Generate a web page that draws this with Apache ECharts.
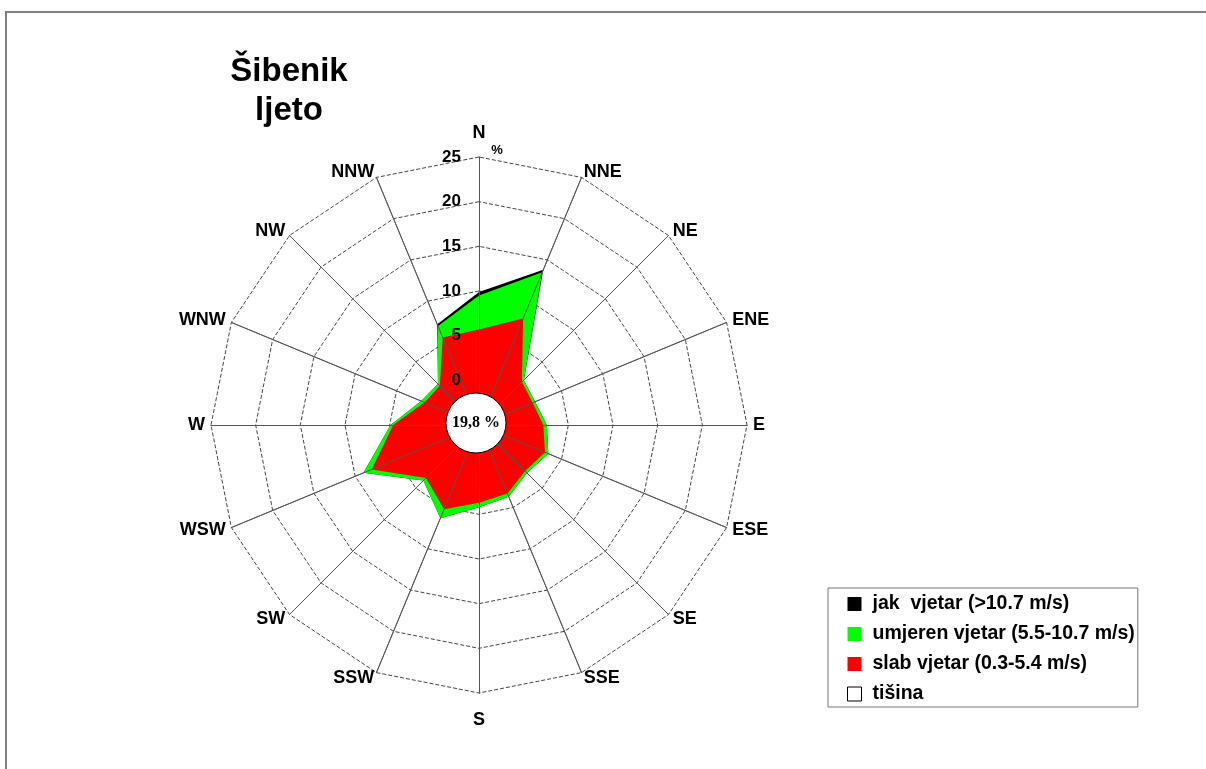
<!DOCTYPE html>
<html>
<head>
<meta charset="utf-8">
<script src="https://cdn.jsdelivr.net/npm/echarts@6/dist/echarts.min.js"></script>
<style>
	body{margin:0;background:#fff;}
	#frame{position:absolute;left:5px;top:11px;right:0;bottom:0;border-top:2px solid #808080;border-left:2px solid #808080;}
	#chart{position:absolute;left:0;top:0;width:1206px;height:769px;}
</style>
</head>
<body>
<div id="frame"></div>
<div id="chart"></div>
<script>
	// smjerovi u smjeru kazaljke, od N
	var directions = ['N','NNE','NE','ENE','E','ESE','SE','SSE','S','SSW','SW','WSW','W','WNW','NW','NNW'];
	// čestine (%) po razredu brzine
	var slab    = [5.7, 7.9, 1.8, 1.5, 2.2, 3.0, 2.3, 3.3, 3.7, 5.2, 3.4, 8.0, 4.6, 1.6, 1.2, 5.6];
	var umjeren = [3.8, 5.6, 0.3, 0.3, 0.4, 0.4, 0.3, 0.4, 0.5, 1.1, 0.4, 1.0, 0.3, 0.4, 0.3, 1.4];
	var jak     = [0.4, 0.3, 0.0, 0.0, 0.0, 0.0, 0.0, 0.0, 0.0, 0.0, 0.0, 0.0, 0.0, 0.0, 0.0, 0.2];
	var tisina = 19.8;
	var ringMin = -5, ringMax = 25;

	var names = {
		jak: 'jak  vjetar (>10.7 m/s)',
		umjeren: 'umjeren vjetar (5.5-10.7 m/s)',
		slab: 'slab vjetar (0.3-5.4 m/s)',
		tisina: 'tišina'
	};
	var font = 'Liberation Sans, Arial, sans-serif';

	// radar ide suprotno od kazaljke, pa okrenemo redoslijed
	function ccw(arr){
		return [arr[0]].concat(arr.slice(1).reverse());
	}
	function addUp(a, b){
		return a.map(function(v, i){ return +(v + b[i]).toFixed(2); });
	}
	var greenTotal = addUp(slab, umjeren);
	var blackTotal = addUp(greenTotal, jak);

	var indicator = ccw(directions).map(function(d){
		var ind = {name: d, min: ringMin, max: ringMax};
		if(d === 'N') ind.nameGap = 0;
		if(d === 'S') ind.nameGap = 18;
		return ind;
	});
	// gornji radar: samo žbice i brojevi na N osi
	var indicatorTop = ccw(directions).map(function(d){
		var ind = {name: d, min: ringMin, max: ringMax};
		if(d === 'N') ind.axisLabel = {show: true};
		return ind;
	});

	var center = [479, 425];
	var radius = 268;

	function radarSeries(name, values, color){
		return {
			type: 'radar',
			name: name,
			radarIndex: 0,
			symbol: 'none',
			silent: true,
			itemStyle: {color: color},
			lineStyle: {width: 0, color: color},
			areaStyle: {color: color, opacity: 1},
			data: [{name: name, value: ccw(values)}]
		};
	}

	var chart = echarts.init(document.getElementById('chart'));
	chart.setOption({
		animation: false,
		title: {
			text: 'Šibenik\nljeto',
			left: 284,
			top: 47,
			textAlign: 'center',
			textStyle: {fontFamily: font, fontSize: 33, fontWeight: 'bold', color: '#000', lineHeight: 39}
		},
		legend: {
			orient: 'vertical',
			left: 828,
			top: 588,
			padding: [6, 3, 3, 19],
			itemGap: 10,
			itemWidth: 26,
			itemHeight: 14,
			icon: 'path://M0,0H10V10H0Z',
			borderColor: '#777',
			borderWidth: 1,
			selectedMode: false,
			textStyle: {fontFamily: font, fontSize: 19.5, fontWeight: 'bold', color: '#000'},
			data: [
				names.jak,
				names.umjeren,
				names.slab,
				{name: names.tisina, itemStyle: {borderColor: '#000', borderWidth: 1}}
			]
		},
		radar: [{
			center: center,
			radius: radius,
			shape: 'polygon',
			splitNumber: 6,
			nameGap: 6,
			indicator: indicator,
			axisName: {
				color: '#000',
				fontFamily: font,
				fontSize: 18,
				fontWeight: 'bold',
				formatter: function(name){
					if(name === 'N') return '{n|N}\n{p|%}';
					return name;
				},
				rich: {
					n: {fontFamily: font, fontSize: 18, fontWeight: 'bold', color: '#000', lineHeight: 20},
					p: {fontFamily: font, fontSize: 13, fontWeight: 'bold', color: '#000', padding: [0, 0, 0, 36], lineHeight: 14}
				}
			},
			axisLine: {lineStyle: {color: '#666', width: 1}},
			splitLine: {lineStyle: {color: '#444', width: 1, type: [4, 2]}},
			splitArea: {show: false},
			axisLabel: {show: false}
		}, {
			center: center,
			radius: radius,
			shape: 'polygon',
			splitNumber: 6,
			z: 3,
			indicator: indicatorTop,
			axisName: {show: false},
			axisLine: {lineStyle: {color: '#555', width: 1}},
			splitLine: {show: false},
			splitArea: {show: false},
			axisLabel: {
				show: false,
				margin: 18,
				color: '#000',
				fontFamily: font,
				fontSize: 17,
				fontWeight: 'bold',
				formatter: function(v){ return v < 0 ? '' : String(v); }
			}
		}],
		series: [
			radarSeries(names.jak, blackTotal, '#000000'),
			radarSeries(names.umjeren, greenTotal, '#00ff00'),
			radarSeries(names.slab, slab, '#ff0000'),
			{
				type: 'pie',
				name: names.tisina,
				z: 5,
				silent: true,
				center: [476, 423],
				radius: [0, 30],
				itemStyle: {color: '#ffffff', borderColor: '#000', borderWidth: 1},
				label: {
					show: true,
					position: 'center',
					fontFamily: 'Liberation Serif, Times New Roman, serif',
					fontSize: 16,
					fontWeight: 'bold',
					color: '#000',
					formatter: function(p){ return String(p.value).replace('.', ',') + ' %'; }
				},
				labelLine: {show: false},
				emphasis: {disabled: true},
				data: [{name: names.tisina, value: tisina}]
			}
		]
	});
</script>
</body>
</html>
